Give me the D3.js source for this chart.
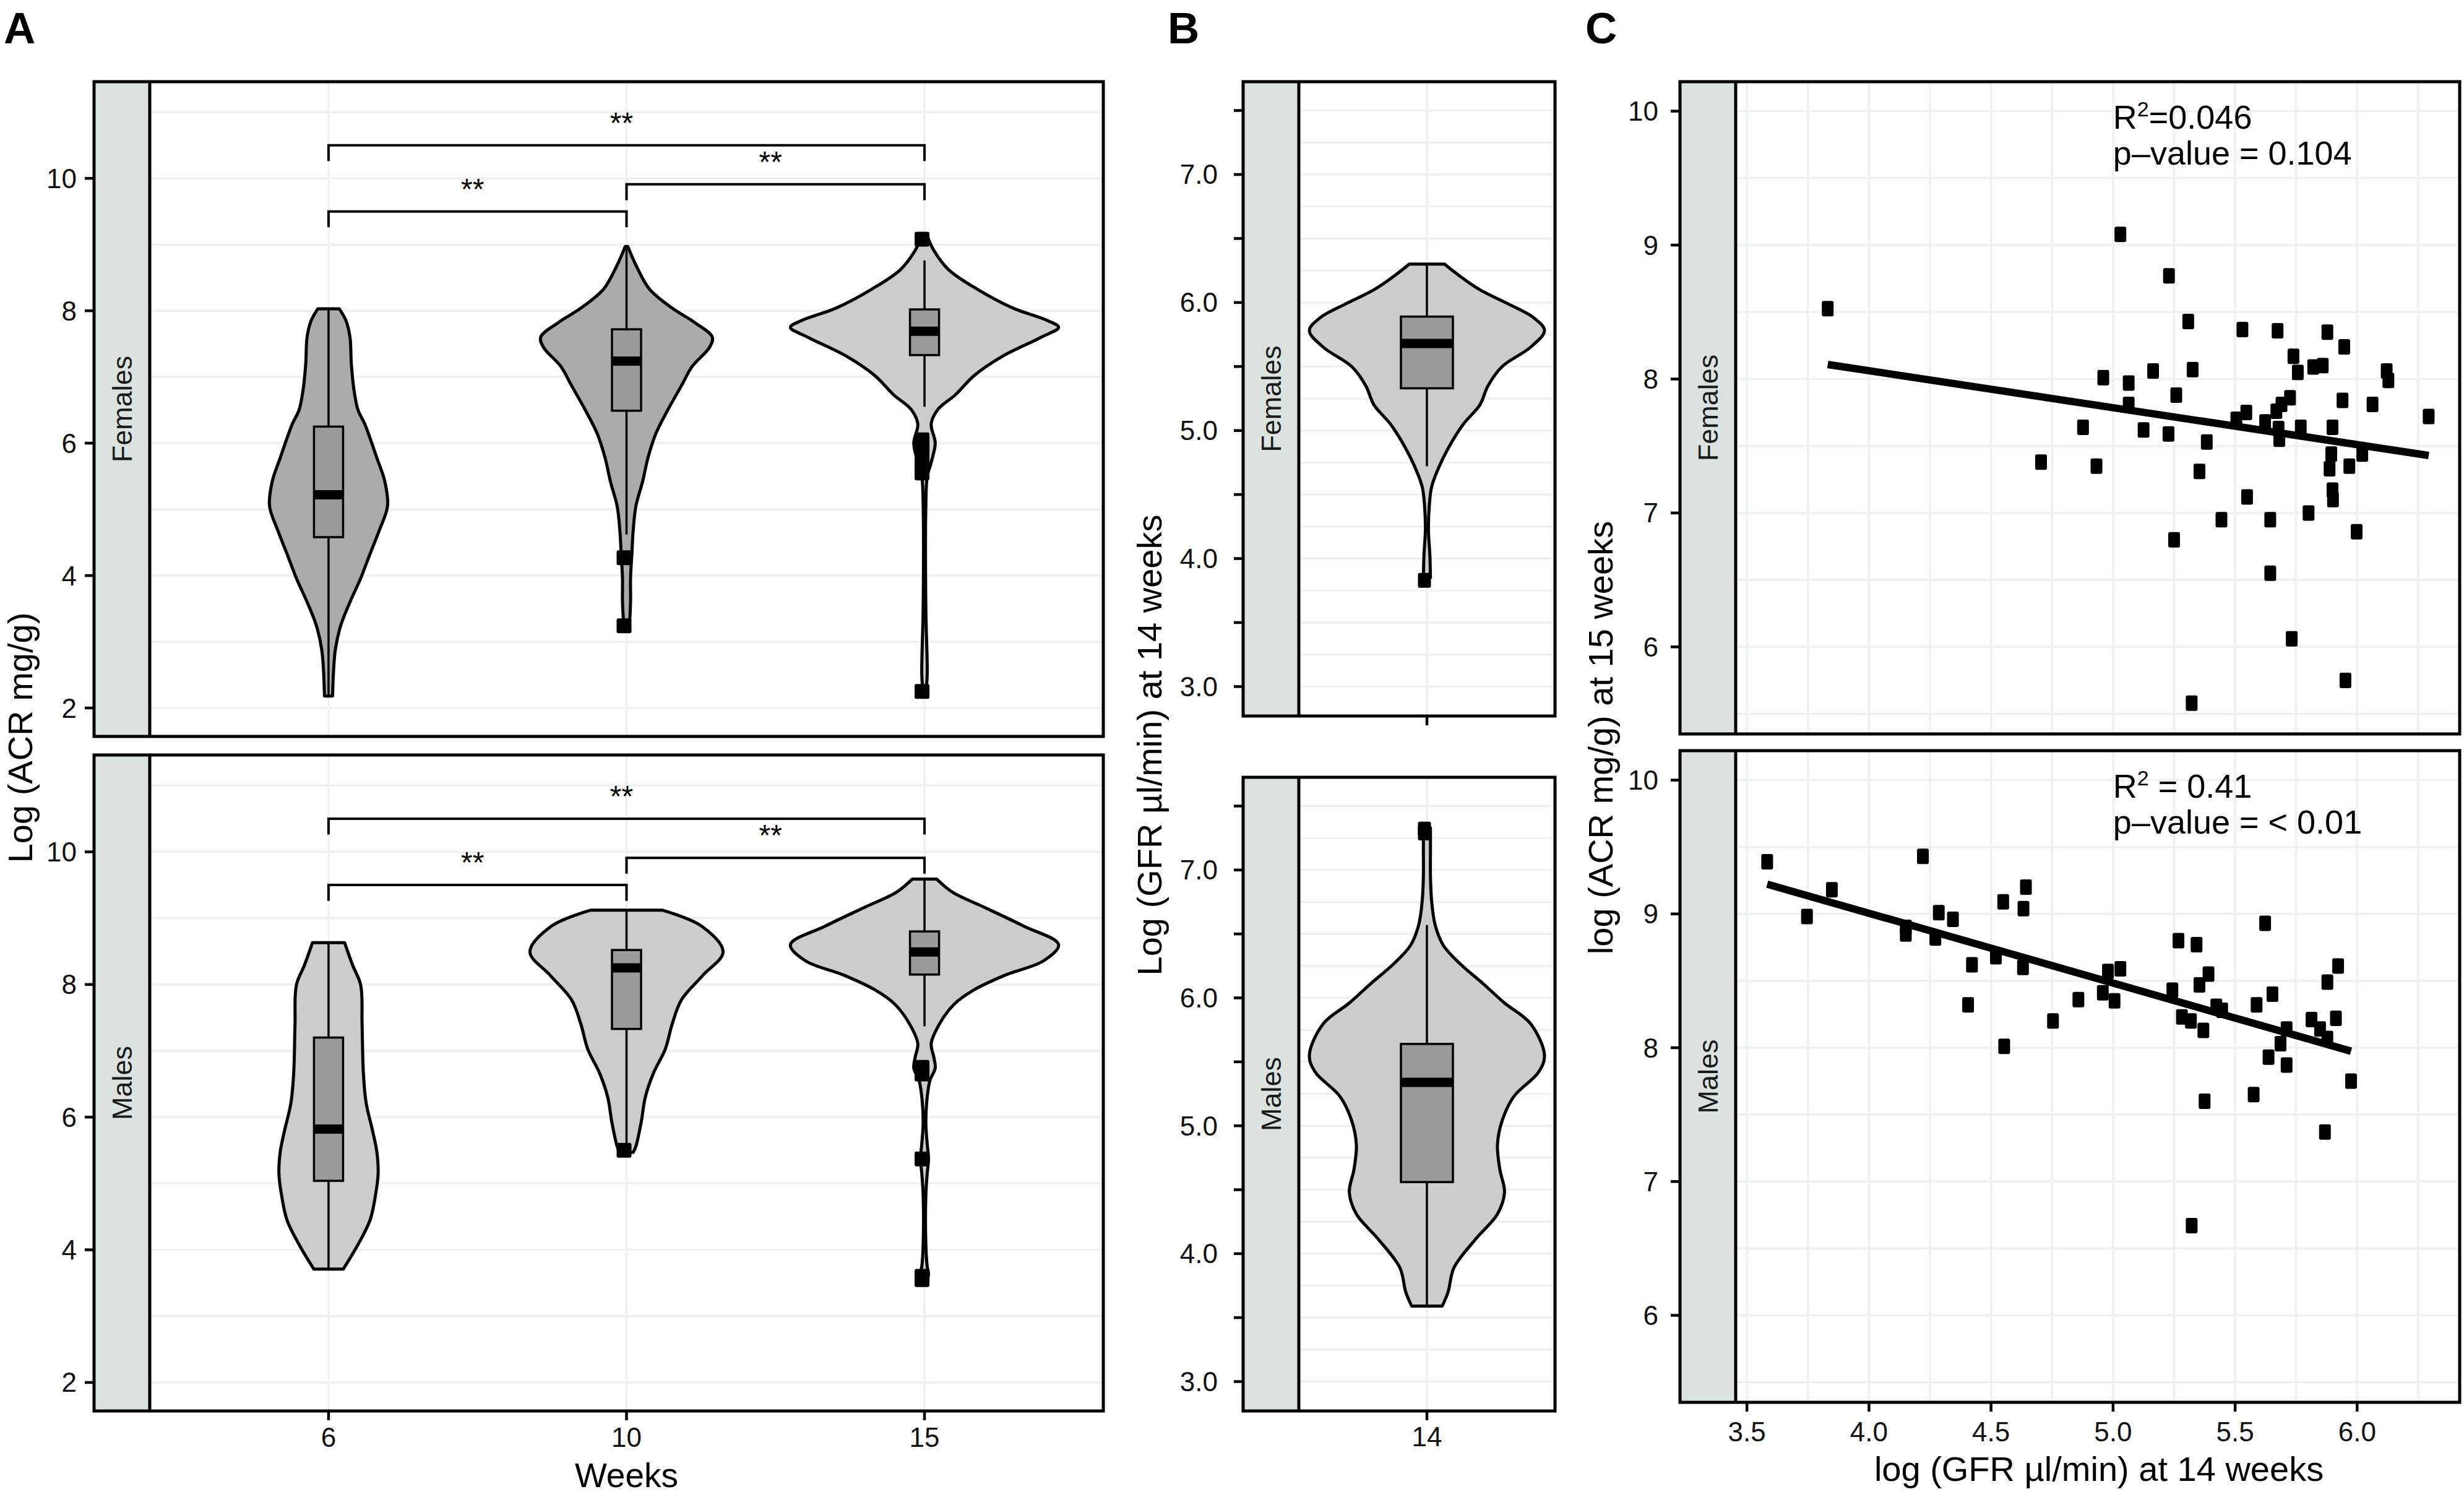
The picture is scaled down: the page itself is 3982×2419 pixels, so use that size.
<!DOCTYPE html>
<html><head><meta charset="utf-8">
<script src="https://cdn.jsdelivr.net/npm/d3@7"></script>
<style>
body{margin:0;background:#fff}
svg{display:block}
text{font-family:"Liberation Sans", Arial, Helvetica, sans-serif}
</style>
</head><body>
<svg id="c" width="3982" height="2419"></svg>
<script>
// ---------------- DATA ----------------
const weeks = ['6', '10', '15'];
const sexes = ['Females', 'Males'];
const gfrWeek = ['14'];

const ticksA = [2, 4, 6, 8, 10];
const ticksB = [3.0, 3.5, 4.0, 4.5, 5.0, 5.5, 6.0, 6.5, 7.0, 7.5];
const ticksCy = [6, 7, 8, 9, 10];
const ticksCx = [3.5, 4.0, 4.5, 5.0, 5.5, 6.0];

// violin outlines: [value, relative half-width]
const violinF6 = [[8.03,0.08],[7.85,0.13],[7.6,0.16],[7.2,0.17],[6.8,0.19],[6.5,0.22],[6.29,0.27],[5.78,0.36],[5.42,0.42],[5.05,0.44],[4.69,0.38],[4.33,0.31],[3.96,0.24],[3.6,0.16],[3.24,0.09],[2.87,0.05],[2.18,0.03]];
const violinF10 = [[8.97,0.01],[8.69,0.07],[8.33,0.17],[8.04,0.34],[7.82,0.51],[7.6,0.64],[7.45,0.62],[7.16,0.49],[6.87,0.41],[6.51,0.31],[6.15,0.22],[5.78,0.16],[5.42,0.12],[5.05,0.07],[4.69,0.05],[4.33,0.04],[3.96,0.03],[3.6,0.03],[3.22,0.02]];
const violinF15 = [[9.13,0.02],[8.91,0.07],[8.62,0.18],[8.33,0.39],[8.04,0.66],[7.85,0.92],[7.75,1.0],[7.6,0.87],[7.31,0.58],[7.02,0.37],[6.73,0.23],[6.51,0.1],[6.29,0.05],[6.0,0.08],[5.71,0.05],[5.49,0.02],[5.05,0.01],[3.5,0.01],[2.5,0.02],[2.22,0.01]];
const violinM6 = [[8.63,0.12],[8.29,0.18],[7.99,0.24],[7.4,0.25],[6.66,0.26],[6.22,0.28],[5.78,0.33],[5.48,0.36],[5.15,0.37],[4.82,0.35],[4.45,0.31],[4.08,0.22],[3.71,0.11]];
const violinM10 = [[9.12,0.27],[8.88,0.56],[8.49,0.72],[8.14,0.57],[7.77,0.41],[7.4,0.34],[7.03,0.29],[6.66,0.2],[6.3,0.14],[5.93,0.11],[5.56,0.07],[5.47,0.05]];
const violinM15 = [[9.59,0.09],[9.39,0.21],[9.17,0.44],[8.88,0.74],[8.6,1.0],[8.36,0.89],[8.14,0.6],[7.92,0.37],[7.7,0.22],[7.4,0.11],[7.11,0.05],[6.9,0.07],[6.74,0.08],[6.55,0.04],[6.3,0.02],[5.93,0.01],[5.6,0.02],[5.37,0.03],[5.15,0.02],[4.82,0.01],[4.08,0.01],[3.75,0.02],[3.64,0.03],[3.53,0.02]];
const violinGfrF = [[6.3,0.15],[6.22,0.26],[6.1,0.45],[5.99,0.69],[5.88,0.91],[5.78,1.0],[5.65,0.88],[5.5,0.64],[5.35,0.52],[5.2,0.45],[5.05,0.31],[4.86,0.18],[4.71,0.1],[4.56,0.04],[4.41,0.02],[4.22,0.013],[4.03,0.025],[3.85,0.03]];
const violinGfrM = [[7.33,0.03],[7.14,0.03],[6.95,0.03],[6.76,0.04],[6.57,0.07],[6.41,0.14],[6.26,0.29],[6.11,0.48],[5.96,0.66],[5.8,0.88],[5.55,1.0],[5.42,0.95],[5.23,0.74],[5.04,0.64],[4.85,0.6],[4.66,0.62],[4.48,0.66],[4.31,0.6],[4.12,0.42],[3.89,0.23],[3.7,0.18],[3.59,0.13]];

// box stats: [lower whisker, q1, median, q3, upper whisker] per week
const boxF = [[2.18,4.58,5.22,6.25,8.03],[4.62,6.49,7.24,7.72,8.97],[6.55,7.33,7.69,8.02,8.76]];
const boxM = [[3.71,5.04,5.82,7.2,8.63],[5.59,7.33,8.25,8.52,9.12],[7.37,8.15,8.49,8.8,9.59]];
const outliersF = [[],[4.27,3.24],[9.08,6.05,5.95,5.8,5.65,5.55,2.25]];
const outliersM = [[],[5.5],[6.75,6.65,5.37,3.6,3.55]];
const boxGfrF = [4.72,5.33,5.68,5.89,6.3];
const boxGfrM = [3.59,4.56,5.34,5.64,6.57];
const outliersGfrF = [3.83];
const outliersGfrM = [7.32,7.29];

// significance brackets (week from, week to, height, label)
const bracketFrom = ['6', '10', '6'];
const bracketTo = ['10', '15', '15'];
const bracketY = [9.5, 9.91, 10.5];
const bracketLabel = ['**', '**', '**'];

// scatter: [log GFR at 14 weeks, log ACR at 15 weeks]
const scatterF = [[3.831,8.525],[5.03,9.08],[5.229,8.77],[5.308,8.43],[5.53,8.37],[5.674,8.36],[5.878,8.35],[5.947,8.24],[4.96,8.01],[5.064,7.97],[5.164,8.06],[5.326,8.07],[5.739,8.17],[5.757,8.05],[5.82,8.09],[5.859,8.10],[6.121,8.06],[6.128,7.99],[5.259,7.88],[5.064,7.81],[5.725,7.86],[5.69,7.81],[5.94,7.84],[6.063,7.81],[5.546,7.75],[5.669,7.76],[5.505,7.70],[5.623,7.68],[6.293,7.72],[4.877,7.64],[5.125,7.62],[5.227,7.59],[5.678,7.63],[5.769,7.64],[5.899,7.64],[5.384,7.53],[5.681,7.55],[4.705,7.38],[4.932,7.35],[5.354,7.31],[5.894,7.44],[5.887,7.33],[5.968,7.35],[6.021,7.44],[5.549,7.12],[5.899,7.17],[5.901,7.10],[5.444,6.95],[5.644,6.95],[5.801,7.0],[5.25,6.80],[5.998,6.86],[5.644,6.55],[5.732,6.06],[5.952,5.75],[5.322,5.58]];
const scatterM = [[3.583,9.39],[3.746,8.98],[3.848,9.18],[4.221,9.43],[4.151,8.90],[4.151,8.85],[4.286,9.01],[4.272,8.82],[4.344,8.96],[4.422,8.62],[4.406,8.32],[4.52,8.68],[4.55,9.09],[4.633,9.04],[4.643,9.20],[4.631,8.60],[4.554,8.01],[4.754,8.20],[4.858,8.36],[4.958,8.41],[4.979,8.57],[5.03,8.59],[5.006,8.35],[5.243,8.43],[5.268,8.80],[5.342,8.77],[5.282,8.23],[5.319,8.20],[5.354,8.47],[5.391,8.55],[5.37,8.13],[5.423,8.31],[5.447,8.28],[5.375,7.60],[5.322,6.67],[5.588,8.32],[5.576,7.65],[5.623,8.93],[5.653,8.40],[5.637,7.93],[5.686,8.03],[5.711,8.14],[5.711,7.87],[5.813,8.21],[5.848,8.14],[5.878,8.07],[5.878,8.49],[5.922,8.61],[5.913,8.22],[5.868,7.37],[5.975,7.75]];
// fitted lines: [intercept, slope]
const fitF = [9.166, -0.276];
const fitM = [11.093, -0.522];
const statR2 = ['0.046', '0.41'];
const statP = ['0.104', '< 0.01'];
const statSep = ['=', ' = '];

// ---------------- STYLE / LAYOUT ----------------
const GRID = '#ECF1F1', STRIP = '#DBE3E1', BORDER = '#000';
const DARK = '#ABABAB', LIGHT = '#CCCCCC', BOXF = '#9A9A9A';
const svg = d3.select('#c');

function txt(g, s, x, y, o = {}) {
  return g.append('text')
    .attr('transform', `translate(${x},${y}) rotate(${o.rot || 0}) scale(${o.sx || 1},${o.sy || 1})`)
    .attr('font-size', o.size || 44)
    .attr('font-weight', o.weight || 'normal')
    .attr('text-anchor', o.anchor || 'start')
    .attr('dominant-baseline', o.base || 'auto')
    .attr('fill', o.fill || '#000')
    .text(s);
}

function hGrid(g, vals, y, x0, x1) {
  g.selectAll(null).data(vals).enter().append('line')
    .attr('x1', x0).attr('x2', x1).attr('y1', d => y(d)).attr('y2', d => y(d))
    .attr('stroke', GRID).attr('stroke-width', 3.5);
}
function vGrid(g, vals, x, y0, y1) {
  g.selectAll(null).data(vals).enter().append('line')
    .attr('y1', y0).attr('y2', y1).attr('x1', d => x(d)).attr('x2', d => x(d))
    .attr('stroke', GRID).attr('stroke-width', 3.5);
}
function frame(g, left, stripR, right, top, bottom, label) {
  g.append('rect').attr('x', left).attr('y', top).attr('width', stripR - left).attr('height', bottom - top).attr('fill', STRIP);
  txt(g, label, (left + stripR) / 2, (top + bottom) / 2, {rot: -90, size: 45, anchor: 'middle', base: 'central', fill: '#1a1a1a'});
  g.append('rect').attr('x', left).attr('y', top).attr('width', right - left).attr('height', bottom - top)
    .attr('fill', 'none').attr('stroke', BORDER).attr('stroke-width', 5);
  g.append('line').attr('x1', stripR).attr('x2', stripR).attr('y1', top).attr('y2', bottom).attr('stroke', BORDER).attr('stroke-width', 5);
}
function yAxis(g, ticks, y, left, labelRight, fmt, showLabel) {
  g.selectAll(null).data(ticks).enter().append('line')
    .attr('x1', left - 15).attr('x2', left).attr('y1', d => y(d)).attr('y2', d => y(d))
    .attr('stroke', '#000').attr('stroke-width', 4.5);
  ticks.filter(showLabel).forEach(t => txt(g, fmt(t), labelRight, y(t), {size: 44, anchor: 'end', base: 'central', fill: '#111'}));
}
function violin(g, prof, cx, y, maxHalf, fill) {
  const area = d3.area().curve(d3.curveCatmullRom.alpha(0.5))
    .y(d => y(d[0])).x0(d => cx - d[1] * maxHalf).x1(d => cx + d[1] * maxHalf);
  g.append('path').attr('d', area(prof)).attr('fill', fill).attr('stroke', '#000').attr('stroke-width', 5).attr('stroke-linejoin', 'round');
}
function box(g, s, out, cx, y, bw, osz) {
  const [lo, q1, med, q3, hi] = s;
  g.append('line').attr('x1', cx).attr('x2', cx).attr('y1', y(hi)).attr('y2', y(q3)).attr('stroke', '#000').attr('stroke-width', 3.5);
  g.append('line').attr('x1', cx).attr('x2', cx).attr('y1', y(q1)).attr('y2', y(lo)).attr('stroke', '#000').attr('stroke-width', 3.5);
  g.append('rect').attr('x', cx - bw / 2).attr('y', y(q3)).attr('width', bw).attr('height', y(q1) - y(q3))
    .attr('fill', BOXF).attr('stroke', '#000').attr('stroke-width', 3.5);
  g.append('line').attr('x1', cx - bw / 2).attr('x2', cx + bw / 2).attr('y1', y(med)).attr('y2', y(med)).attr('stroke', '#000').attr('stroke-width', 15);
  g.selectAll(null).data(out).enter().append('rect')
    .attr('x', cx - 4 - osz[0] / 2).attr('y', d => y(d) - osz[1] / 2).attr('width', osz[0]).attr('height', osz[1])
    .attr('rx', 3).attr('fill', '#000');
}

// panel letters
txt(svg, 'A', 6, 70, {size: 71, weight: 'bold'});
txt(svg, 'B', 1887, 70, {size: 71, weight: 'bold'});
txt(svg, 'C', 2562, 70, {size: 71, weight: 'bold'});

// ---------------- PANEL A ----------------
const A = {left: 152, stripR: 242, right: 1783, rows: [[132, 1190], [1220, 2280]]};
const xA = d3.scalePoint().domain(weeks).range([A.stripR, A.right]).padding(0.6);
const violinsA = [[violinF6, violinF10, violinF15], [violinM6, violinM10, violinM15]];
const fillsA = [[DARK, DARK, LIGHT], [LIGHT, LIGHT, LIGHT]];
const boxesA = [boxF, boxM], outA = [outliersF, outliersM];
const maxHalfA = 0.45 * xA.step();

sexes.forEach((sex, r) => {
  const [top, bottom] = A.rows[r];
  const y = d3.scaleLinear().domain([1.57, 11.46]).range([bottom, top]);
  const g = svg.append('g');
  hGrid(g, d3.range(2, 12), y, A.stripR, A.right);
  vGrid(g, weeks, xA, top, bottom);
  weeks.forEach((w, i) => {
    violin(g, violinsA[r][i], xA(w), y, maxHalfA, fillsA[r][i]);
    box(g, boxesA[r][i], outA[r][i], xA(w), y, 47, [24, 24]);
  });
  bracketY.forEach((b, i) => {
    const x1 = xA(bracketFrom[i]), x2 = xA(bracketTo[i]);
    g.append('path').attr('d', `M${x1},${y(b - 0.24)}V${y(b)}H${x2}V${y(b - 0.24)}`)
      .attr('fill', 'none').attr('stroke', '#000').attr('stroke-width', 4);
    txt(g, bracketLabel[i], (x1 + x2) / 2 - 8, y(b) - 20, {size: 48, anchor: 'middle'});
  });
  frame(g, A.left, A.stripR, A.right, top, bottom, sex);
  yAxis(g, ticksA, y, A.left, 124, d => d, () => true);
  if (r === 1) {
    weeks.forEach(w => {
      g.append('line').attr('x1', xA(w)).attr('x2', xA(w)).attr('y1', bottom).attr('y2', bottom + 15).attr('stroke', '#000').attr('stroke-width', 4.5);
      txt(g, w, xA(w), 2338, {size: 44, anchor: 'middle', fill: '#111'});
    });
  }
});
txt(svg, 'Weeks', xA('10'), 2403, {size: 55, anchor: 'middle'});
txt(svg, 'Log (ACR mg/g)', 52, 1192, {size: 56, anchor: 'middle', rot: -90});

// ---------------- PANEL B ----------------
const B = {left: 2009, stripR: 2099, right: 2513, rows: [[132, 1157], [1256, 2280]]};
const xB = d3.scalePoint().domain(gfrWeek).range([B.stripR, B.right]).padding(0.6);
const violinsB = [violinGfrF, violinGfrM], boxesB = [boxGfrF, boxGfrM], outB = [outliersGfrF, outliersGfrM];
sexes.forEach((sex, r) => {
  const [top, bottom] = B.rows[r];
  const y = d3.scaleLinear().domain([2.77, 7.725]).range([bottom, top]);
  const g = svg.append('g');
  hGrid(g, d3.range(3, 7.6, 0.25), y, B.stripR, B.right);
  vGrid(g, gfrWeek, xB, top, bottom);
  violin(g, violinsB[r], xB('14'), y, 190, LIGHT);
  box(g, boxesB[r], outB[r], xB('14'), y, 84, [21, 24]);
  frame(g, B.left, B.stripR, B.right, top, bottom, sex);
  yAxis(g, ticksB, y, B.left, 1968, d3.format('.1f'), d => Number.isInteger(d));
  g.append('line').attr('x1', xB('14')).attr('x2', xB('14')).attr('y1', bottom).attr('y2', bottom + 15).attr('stroke', '#000').attr('stroke-width', 4.5);
  if (r === 1) txt(g, '14', xB('14'), 2337, {size: 44, anchor: 'middle', fill: '#111'});
});
txt(svg, 'Log (GFR \u00b5l/min) at 14 weeks', 1877, 1204, {size: 56, anchor: 'middle', rot: -90});

// ---------------- PANEL C ----------------
const C = {left: 2715, stripR: 2805, right: 3975, rows: [[132, 1186], [1213, 2266]]};
const xC = d3.scaleLinear().domain([3.454, 6.42]).range([C.stripR, C.right]);
const scatters = [scatterF, scatterM], fits = [fitF, fitM];
sexes.forEach((sex, r) => {
  const [top, bottom] = C.rows[r];
  const y = d3.scaleLinear().domain([5.35, 10.22]).range([bottom, top]);
  const g = svg.append('g');
  hGrid(g, d3.range(5.5, 10.01, 0.5), y, C.stripR, C.right);
  vGrid(g, d3.range(3.5, 6.3, 0.25), xC, top, bottom);
  g.selectAll(null).data(scatters[r]).enter().append('rect')
    .attr('x', d => xC(d[0]) - 9.5).attr('y', d => y(d[1]) - 12.5).attr('width', 19).attr('height', 25)
    .attr('rx', 3).attr('fill', '#000');
  const ext = d3.extent(scatters[r], d => d[0]);
  const [b0, b1] = fits[r];
  g.append('path').attr('d', d3.line().x(d => xC(d)).y(d => y(b0 + b1 * d))(ext))
    .attr('stroke', '#000').attr('stroke-width', 12).attr('fill', 'none');
  const t = g.append('text').attr('x', xC(5.0)).attr('y', y(9.87)).attr('font-size', 54);
  t.append('tspan').text('R');
  t.append('tspan').attr('font-size', 34).attr('dy', -20).text('2');
  t.append('tspan').attr('dy', 20).text(statSep[r] + statR2[r]);
  txt(g, 'p\u2013value = ' + statP[r], xC(5.0), y(9.87) + 58, {size: 54});
  frame(g, C.left, C.stripR, C.right, top, bottom, sex);
  yAxis(g, ticksCy, y, C.left, 2680, d => d, () => true);
  if (r === 1) {
    ticksCx.forEach(v => {
      g.append('line').attr('x1', xC(v)).attr('x2', xC(v)).attr('y1', bottom).attr('y2', bottom + 15).attr('stroke', '#000').attr('stroke-width', 4.5);
      txt(g, d3.format('.1f')(v), xC(v), 2329, {size: 44, anchor: 'middle', fill: '#111'});
    });
  }
});
txt(svg, 'log (ACR mg/g) at 15 weeks', 2606, 1192, {size: 56, anchor: 'middle', rot: -90});
txt(svg, 'log (GFR \u00b5l/min) at 14 weeks', 3392, 2393, {size: 56, anchor: 'middle'});
</script>
</body></html>
